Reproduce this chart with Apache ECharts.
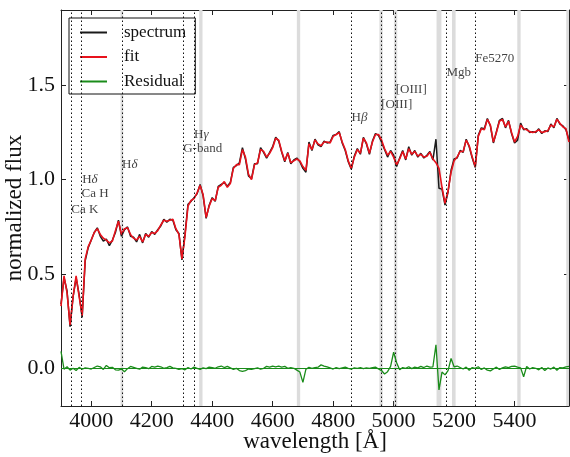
<!DOCTYPE html>
<html><head><meta charset="utf-8">
<script src="https://cdn.jsdelivr.net/npm/echarts@6/dist/echarts.min.js"></script>
<style>html,body{margin:0;padding:0;background:#fff}#c{width:570px;height:457px}</style>
</head><body><div id="c"></div>
<script>
// wavelength sampling grid (Å)
const waveStart = 3900, waveStep = 10;

// best-fit model (red)
const fit = [
 0.33,0.49,0.40,0.23,0.38,0.49,0.38,0.28,0.58,0.645,
 0.68,0.72,0.74,0.71,0.69,0.68,0.665,0.675,0.73,0.78,
 0.71,0.74,0.745,0.71,0.69,0.68,0.70,0.67,0.71,0.70,
 0.72,0.715,0.73,0.76,0.785,0.78,0.785,0.79,0.74,0.71,
 0.58,0.70,0.86,0.89,0.90,0.93,0.97,0.92,0.80,0.86,
 0.90,0.89,0.96,0.97,0.99,0.96,0.98,1.06,1.08,1.08,
 1.16,1.12,1.03,1.00,1.08,1.09,1.16,1.15,1.12,1.14,
 1.17,1.22,1.21,1.15,1.10,1.14,1.09,1.10,1.11,1.10,
 1.07,1.05,1.19,1.16,1.21,1.19,1.18,1.20,1.20,1.195,
 1.23,1.24,1.25,1.20,1.16,1.10,1.06,1.12,1.16,1.14,
 1.22,1.195,1.14,1.20,1.24,1.24,1.21,1.165,1.13,1.15,
 1.12,1.08,1.11,1.15,1.11,1.165,1.135,1.15,1.125,1.135,
 1.12,1.125,1.145,1.11,1.09,1.06,0.96,0.875,0.94,1.04,
 1.10,1.12,1.15,1.15,1.21,1.18,1.12,1.07,1.23,1.27,
 1.265,1.32,1.29,1.20,1.25,1.31,1.32,1.28,1.31,1.25,
 1.20,1.23,1.29,1.27,1.265,1.255,1.25,1.255,1.265,1.25,
 1.255,1.26,1.29,1.28,1.32,1.30,1.28,1.27,1.20
];

// observed spectrum (black)
const spectrum = [
 0.34,0.48,0.41,0.22,0.38,0.48,0.39,0.27,0.57,0.64,
 0.68,0.72,0.745,0.70,0.675,0.685,0.65,0.68,0.72,0.785,
 0.70,0.735,0.75,0.70,0.695,0.67,0.71,0.665,0.715,0.695,
 0.725,0.71,0.735,0.755,0.79,0.775,0.79,0.785,0.735,0.715,
 0.575,0.71,0.87,0.885,0.905,0.925,0.975,0.915,0.795,0.865,
 0.905,0.885,0.965,0.975,0.985,0.965,0.985,1.065,1.075,1.09,
 1.17,1.11,1.02,1.005,1.085,1.085,1.17,1.145,1.115,1.145,
 1.175,1.225,1.205,1.145,1.095,1.145,1.085,1.105,1.115,1.095,
 1.06,1.04,1.20,1.155,1.215,1.185,1.175,1.205,1.195,1.20,
 1.235,1.24,1.255,1.195,1.155,1.095,1.055,1.125,1.165,1.135,
 1.225,1.19,1.135,1.205,1.245,1.235,1.20,1.16,1.12,1.155,
 1.13,1.07,1.115,1.155,1.105,1.175,1.13,1.155,1.12,1.14,
 1.115,1.13,1.15,1.105,1.215,0.955,0.95,0.865,0.935,1.05,
 1.11,1.115,1.155,1.145,1.215,1.175,1.115,1.065,1.235,1.275,
 1.27,1.325,1.285,1.195,1.255,1.315,1.325,1.275,1.315,1.245,
 1.195,1.21,1.30,1.265,1.27,1.25,1.255,1.25,1.27,1.245,
 1.26,1.255,1.295,1.275,1.325,1.295,1.285,1.265,1.21
];

// residual (green)
const residual = [
 0.09,-0.005,0.008,-0.01,0.0,-0.012,0.005,-0.005,0.002,0.0,
 -0.004,0.004,0.012,0.008,-0.006,0.015,0.003,0.005,-0.008,-0.01,
 -0.004,-0.018,-0.002,0.01,0.005,0.0,-0.005,0.006,0.004,-0.002,
 0.01,0.006,0.012,0.008,0.0,0.004,0.01,0.002,0.0,-0.006,
 -0.002,-0.008,0.004,-0.004,0.006,0.0,-0.006,0.002,-0.002,0.006,
 0.004,0.0,0.008,0.012,0.004,0.01,0.002,-0.006,0.0,-0.012,
 -0.016,-0.012,-0.004,-0.006,-0.002,0.002,-0.004,0.0,0.01,0.006,
 0.012,0.008,0.012,0.006,0.01,0.0,0.004,0.0,-0.01,-0.02,
 -0.075,-0.005,0.005,0.0,0.004,0.006,0.018,0.012,0.008,0.002,
 -0.004,0.004,-0.002,0.002,0.006,0.0,-0.004,0.002,0.0,0.004,
 -0.002,0.002,0.0,0.004,0.006,-0.004,-0.012,-0.03,-0.018,0.01,
 0.085,0.03,-0.008,0.004,0.0,0.008,-0.002,0.006,0.002,0.01,
 0.004,0.012,0.006,0.008,0.125,-0.115,-0.02,-0.035,-0.012,0.052,
 0.008,0.012,0.004,-0.004,0.006,-0.01,0.004,0.0,0.008,-0.006,
 0.002,-0.01,-0.014,-0.004,0.006,-0.006,0.002,0.008,0.004,0.01,
 0.012,0.006,0.002,-0.045,0.01,-0.004,0.004,0.0,-0.008,0.004,
 -0.012,0.002,-0.004,0.006,-0.01,0.004,0.002,0.008,0.01
];

const xTicks = [4000,4200,4400,4600,4800,5000,5200,5400];
const yTicks = [0.0,0.5,1.0,1.5];

// line identifications
const lineNames  = ['Ca K','Ca H','Hδ','Hδ','G-band','Hγ','Hβ','[OIII]','[OIII]','Mgb','Fe5270'];
const lineWaves  = [3934,3968,3970,4102,4304,4340,4861,4959,5007,5175,5270];
const lineLabelY = [0.84,0.925,1.0,1.08,1.165,1.24,1.33,1.40,1.48,1.57,1.64];
const dottedWaves = [3934,3968,4102,4304,4340,4861,4959,5007,5175,5270];
// masked wavelength regions (grey)
const maskStarts = [4097,4357,4680,4953,5001,5142,5193,5409,5571];
const maskEnds   = [4106,4368,4691,4964,5012,5158,5205,5420,5582];

const serif = 'Liberation Serif';
const toXY = arr => arr.map((v, i) => [waveStart + i * waveStep, v]);

const chart = echarts.init(document.getElementById('c'));
const axisLineStyle = { color: '#222', width: 1 };
const xBase = {
  type: 'value', min: 3900, max: 5580,
  splitLine: { show: false },
  axisLine: { show: true, onZero: false, lineStyle: axisLineStyle },
  axisTick: { show: true, inside: true, length: 5, customValues: xTicks, lineStyle: axisLineStyle }
};
const yBase = {
  type: 'value', min: -0.2, max: 1.9,
  splitLine: { show: false },
  axisLine: { show: true, onZero: false, lineStyle: axisLineStyle },
  axisTick: { show: true, inside: true, length: 5, customValues: yTicks, lineStyle: axisLineStyle }
};

chart.setOption({
  animation: false,
  backgroundColor: '#fff',
  grid: { left: 61, right: 1, top: 10, bottom: 51, containLabel: false, outerBoundsMode: 'none' },
  legend: {
    data: ['spectrum', 'fit', 'Residual'],
    orient: 'vertical', left: 69, top: 18,
    padding: [6, 9, 4, 11],
    icon: 'rect',
    itemWidth: 27, itemHeight: 2, itemGap: 7.5,
    backgroundColor: '#fff', borderColor: '#111', borderWidth: 1, borderRadius: 0,
    textStyle: { fontFamily: serif, fontSize: 17, color: '#111', padding: [0, 0, 0, 12] }
  },
  xAxis: [
    Object.assign({}, xBase, {
      position: 'bottom',
      name: 'wavelength [Å]', nameLocation: 'middle', nameGap: 24, nameMoveOverlap: false,
      nameTextStyle: { fontFamily: serif, fontSize: 23, color: '#111' },
      axisLabel: { customValues: xTicks, margin: 4, fontFamily: serif, fontSize: 22, color: '#111',
                   formatter: v => String(v) }
    }),
    Object.assign({}, xBase, { position: 'top', axisLabel: { show: false } })
  ],
  yAxis: [
    Object.assign({}, yBase, {
      position: 'left',
      name: 'normalized flux', nameLocation: 'middle', nameGap: 35, nameMoveOverlap: false,
      nameTextStyle: { fontFamily: serif, fontSize: 23, color: '#111' },
      axisLabel: { customValues: yTicks, margin: 6, fontFamily: serif, fontSize: 22, color: '#111',
                   formatter: v => v.toFixed(1) }
    }),
    Object.assign({}, yBase, { position: 'right', axisLabel: { show: false } })
  ],
  series: [
    {
      name: 'masks', type: 'line', data: [], z: 1, silent: true,
      markArea: {
        silent: true,
        itemStyle: { color: '#dcdcdc' },
        data: maskStarts.map((s, i) => [{ xAxis: s }, { xAxis: maskEnds[i] }])
      },
      markLine: {
        silent: true, symbol: 'none', label: { show: false },
        lineStyle: { color: '#111', type: [1.5, 2.5], width: 1 },
        data: dottedWaves.map(w => ({ xAxis: w }))
      }
    },
    {
      name: 'spectrum', type: 'line', data: toXY(spectrum), z: 3,
      symbol: 'none', color: '#1a1a1a', lineStyle: { color: '#1a1a1a', width: 1.5 }
    },
    {
      name: 'fit', type: 'line', data: toXY(fit), z: 4,
      symbol: 'none', color: '#e8121c', lineStyle: { color: '#e8121c', width: 1.6 }
    },
    {
      name: 'Residual', type: 'line', data: toXY(residual), z: 5,
      symbol: 'none', color: '#1a8c1a', lineStyle: { color: '#1a8c1a', width: 1.3 },
      markLine: {
        silent: true, symbol: 'none', label: { show: false },
        lineStyle: { color: '#1a8c1a', type: 'solid', width: 1 },
        data: [{ yAxis: 0 }]
      }
    },
    {
      name: 'labels', type: 'scatter', z: 6, silent: true, symbolSize: 0,
      data: lineWaves.map((w, i) => ({ value: [w, lineLabelY[i]], name: lineNames[i] })),
      label: {
        show: true, position: 'right', distance: 0,
        fontFamily: serif, fontSize: 13, color: '#111',
        formatter: p => p.name.replace(/([βγδ])/g, '{g|$1}'),
        rich: { g: { fontFamily: serif, fontSize: 13, fontStyle: 'italic', color: '#111' } }
      }
    }
  ]
});
</script>
</body></html>
